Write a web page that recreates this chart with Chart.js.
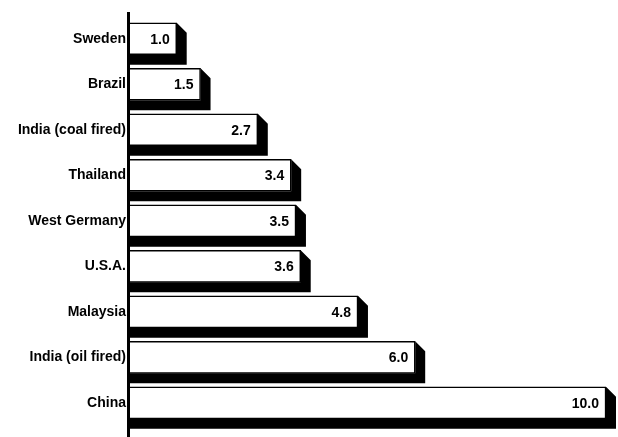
<!DOCTYPE html>
<html>
<head>
<meta charset="utf-8">
<script src="https://cdn.jsdelivr.net/npm/chart.js@4/dist/chart.umd.min.js"></script>
<style>
  html, body { margin: 0; padding: 0; background: #fff; }
  #wrap { width: 618px; height: 437px; position: relative; }
</style>
</head>
<body>
<div id="wrap"><canvas id="myChart"></canvas></div>
<script>
const categories = [ 'Sweden', 'Brazil', 'India (coal fired)', 'Thailand', 'West Germany', 'U.S.A.', 'Malaysia', 'India (oil fired)', 'China' ];
const values = [ 1.0, 1.5, 2.7, 3.4, 3.5, 3.6, 4.8, 6.0, 10.0 ];

const DEPTH = 10;

// 影（立体部分）とバー内の数値を描く
const shadowPlugin = {
    id: 'shadow3d',
    beforeDatasetsDraw( chart ) {
        const c = chart.ctx;
        const meta = chart.getDatasetMeta( 0 );
        c.save();
        c.fillStyle = '#000';
        meta.data.forEach( bar => {
            const p = bar.getProps( [ 'x', 'y', 'base', 'height' ], true );
            const top = p.y - p.height / 2;
            const bottom = p.y + p.height / 2;
            c.beginPath();
            c.moveTo( p.x, top );
            c.lineTo( p.x + DEPTH, top + DEPTH );
            c.lineTo( p.x + DEPTH, bottom + DEPTH );
            c.lineTo( p.base, bottom + DEPTH );
            c.lineTo( p.base, bottom );
            c.lineTo( p.x, bottom );
            c.closePath();
            c.fill();
        });
        c.restore();
    },
    afterDatasetsDraw( chart ) {
        const c = chart.ctx;
        const meta = chart.getDatasetMeta( 0 );
        c.save();
        c.fillStyle = '#000';
        c.font = 'bold 14px "Liberation Sans", Arial, sans-serif';
        c.textAlign = 'right';
        c.textBaseline = 'middle';
        meta.data.forEach( ( bar, i ) => {
            const p = bar.getProps( [ 'x', 'y' ], true );
            c.fillText( values[ i ].toFixed( 1 ), p.x - 7, p.y + 1 );
        });
        // 縦軸の線
        const a = chart.chartArea;
        c.strokeStyle = '#000';
        c.lineWidth = 3;
        c.beginPath();
        c.moveTo( a.left - 0.5, a.top - 4 );
        c.lineTo( a.left - 0.5, chart.height );
        c.stroke();
        c.restore();
    }
};

new Chart( document.getElementById( 'myChart' ), {
    type: 'bar',
    data: {
        labels: categories,
        datasets: [{
            data: values,
            backgroundColor: '#fff',
            borderColor: '#000',
            borderWidth: 1.5,
            borderSkipped: 'left',
            barThickness: 32
        }]
    },
    options: {
        indexAxis: 'y',
        responsive: true,
        maintainAspectRatio: false,
        animation: false,
        layout: { padding: { top: 16, bottom: 7, right: 12, left: 0 } },
        plugins: { legend: { display: false }, tooltip: { enabled: false } },
        scales: {
            x: { display: false, min: 0, max: 10 },
            y: {
                grid: { display: false, drawTicks: false },
                border: { display: false },
                ticks: {
                    color: '#000',
                    padding: 3,
                    font: { family: '"Liberation Sans", Arial, sans-serif', size: 14, weight: 'bold' }
                },
                afterFit( scale ) { scale.width = 129; }
            }
        }
    },
    plugins: [ shadowPlugin ]
});
</script>
</body>
</html>
